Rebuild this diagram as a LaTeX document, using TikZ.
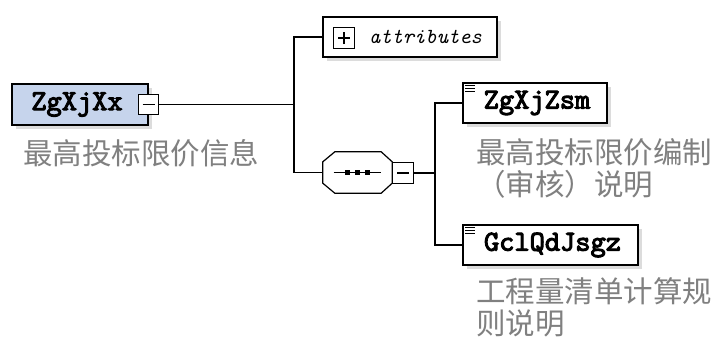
\documentclass[tikz,border=0pt]{standalone}
\usepackage{fontspec}
\newfontfamily\cjk{Noto Sans CJK SC}
\newfontfamily\boxfont{lmmono10-regular.otf}[FakeBold=3.5]
\newfontfamily\attrfont{lmmono10-italic.otf}
\usetikzlibrary{shadows}
\definecolor{rootblue}{RGB}{198,212,236}
\definecolor{lblgray}{RGB}{128,128,128}
\begin{document}
\begin{tikzpicture}[x=1pt,y=-1pt,
  conn/.style={line width=1.2pt, draw=black},
  shad/.style={drop shadow={shadow xshift=4pt,shadow yshift=-4pt,fill=black!30,opacity=0.45}},
  elbox/.style={draw=black, line width=1.3pt, fill=white, inner sep=0pt, minimum height=40pt,
    font=\boxfont\fontsize{29}{29}\selectfont, shad},
  tog/.style={draw=black, line width=1.1pt, fill=white, minimum size=20pt, inner sep=0pt},
  lbl/.style={font=\cjk\fontsize{29.5}{32}\selectfont, text=lblgray, inner sep=0pt, align=left, anchor=west},
  sign/.style={line width=1.1pt}]
\useasboundingbox (0,0) rectangle (718,338);
\fill[white] (0,0) rectangle (718,338);

% root element
\node[elbox, fill=rootblue, minimum width=136pt, minimum height=41pt] (root) at (80,104.5) {ZgXjXx\hspace*{6pt}};
\node[tog] (rootm) at (root.east) {};
\draw[sign] ([xshift=-6pt]rootm.center) -- ([xshift=6pt]rootm.center);
\node[lbl] (rootl) at (23,153) {最高投标限价信息};

% attributes
\node[draw=black, line width=1.3pt, fill=white, inner sep=0pt, minimum width=174pt, minimum height=40pt, shad] (attr) at (410,37) {};
\node[tog, minimum size=21pt] (attrp) at (344,38) {};
\draw[sign] ([xshift=-6pt]attrp.center) -- ([xshift=6pt]attrp.center);
\draw[sign] ([yshift=-6pt]attrp.center) -- ([yshift=6pt]attrp.center);
\node[font=\attrfont\fontsize{21.5}{21.5}\selectfont, inner sep=0pt] (attrt) at (425.5,37) {attributes};

% sequence compositor
\node[minimum width=69pt, minimum height=41pt, inner sep=0pt] (seq) at (357.5,172.5) {};
\fill[black!30, opacity=0.45, xshift=4pt, yshift=-4pt]
  ([xshift=12pt]seq.north west) -- ([xshift=-11pt]seq.north east) -- ([yshift=-10pt]seq.north east)
  -- ([yshift=10pt]seq.south east) -- ([xshift=-11pt]seq.south east) -- ([xshift=12pt]seq.south west)
  -- ([yshift=10pt]seq.south west) -- ([yshift=-10pt]seq.north west) -- cycle;
\filldraw[fill=white, draw=black, line width=1.2pt]
  ([xshift=12pt]seq.north west) -- ([xshift=-11pt]seq.north east) -- ([yshift=-10pt]seq.north east)
  -- ([yshift=10pt]seq.south east) -- ([xshift=-11pt]seq.south east) -- ([xshift=12pt]seq.south west)
  -- ([yshift=10pt]seq.south west) -- ([yshift=-10pt]seq.north west) -- cycle;
\draw[line width=1pt] ([xshift=-24pt]seq.center) -- ([xshift=23pt]seq.center);
\foreach \dx in {-10,0,10}
  \fill ([xshift=\dx pt]seq.center) ++(-2.5,-2.5) rectangle ++(5,5);
\node[tog, minimum size=21pt, anchor=west] (seqm) at ([yshift=-0.5pt]seq.east) {};
\draw[sign] ([xshift=-6pt]seqm.center) -- ([xshift=6pt]seqm.center);

% child elements
\node[elbox, minimum width=144pt] (zsm) at (535,103) {\hspace*{4pt}ZgXjZsm};
\node[elbox, minimum width=175pt] (gcl) at (550.5,245) {\hspace*{4pt}GclQdJsgz};
\foreach \n in {zsm,gcl}
  \foreach \d in {3,6,9}
    \draw[line width=0.8pt] ([xshift=3pt,yshift=-\d pt]\n.north west) -- ++(10,0);
\node[lbl] (zsml) at (476,168) {最高投标限价编制\\（审核）说明};
\node[lbl] (gcll) at (476,307) {工程量清单计算规\\则说明};

% junctions
\coordinate (j1) at (294,104.5);
\coordinate (j2) at (435,173);

% connectors
\draw[conn] (rootm.east) -- (j1);
\draw[conn] (attr.west) -| (j1) |- (seq.west);
\draw[conn] (seqm.east) -- (j2);
\draw[conn] (zsm.west) -| (j2) |- (gcl.west);
\end{tikzpicture}
\end{document}
